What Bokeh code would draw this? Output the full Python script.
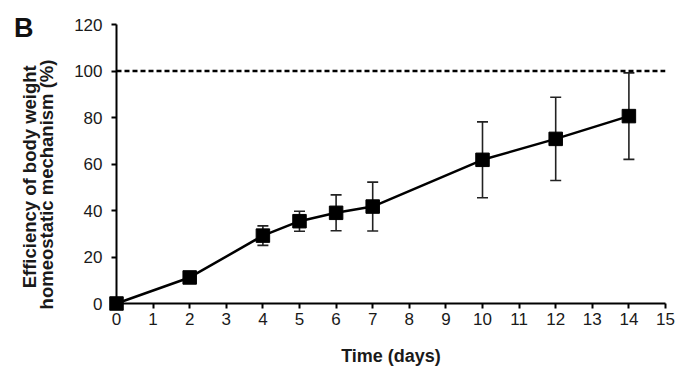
import math
from bokeh.plotting import figure
from bokeh.models import ColumnDataSource, Whisker, TeeHead, Range1d, FixedTicker
from bokeh.core.properties import value
from bokeh.embed import file_html
from bokeh.resources import INLINE

# Data
days = [0, 2, 4, 5, 6, 7, 10, 12, 14]
efficiency = [0, 11.2, 29.2, 35.4, 39.0, 41.7, 61.8, 70.8, 80.6]
err = [0, 1.5, 4.2, 4.3, 7.7, 10.5, 16.3, 17.9, 18.6]
x_ticks = list(range(0, 16))
y_ticks = [0, 20, 40, 60, 80, 100, 120]
ref_level = 100
y_title_lines = ["Efficiency of body weight", "homeostatic mechanism  (%)"]
x_title = "Time (days)"
panel_tag = "B"

FONT = "Liberation Sans"
TXT = "#1a1a1a"

p = figure(width=689, height=374, output_backend="svg", toolbar_location=None,
           x_range=Range1d(x_ticks[0], x_ticks[-1]), y_range=Range1d(y_ticks[0], y_ticks[-1]),
           min_border_left=116, min_border_right=24, min_border_top=24, min_border_bottom=71)
p.outline_line_color = None
p.grid.visible = False
p.background_fill_color = "white"

lower = [v - e for v, e in zip(efficiency, err)]
upper = [v + e for v, e in zip(efficiency, err)]
src = ColumnDataSource(dict(x=days, y=efficiency, lower=lower, upper=upper))

w = Whisker(base="x", lower="lower", upper="upper", source=src,
            line_color="#222222", line_width=1.6,
            upper_head=TeeHead(size=11, line_color="#222222", line_width=1.6),
            lower_head=TeeHead(size=11, line_color="#222222", line_width=1.6))
p.add_layout(w)

# reference dashed line
p.line([x_ticks[0], x_ticks[-1]], [ref_level, ref_level], line_color="black",
       line_width=2.4, line_dash="5 3")

p.line("x", "y", source=src, line_color="black", line_width=2.5, level="overlay")
p.scatter("x", "y", source=src, marker="square", size=13.5, fill_color="black",
          line_color="black", level="overlay")

for ax in (p.xaxis[0], p.yaxis[0]):
    ax.axis_line_width = 2
    ax.axis_line_color = "black"
    ax.major_tick_line_width = 2
    ax.major_tick_line_color = "black"
    ax.major_tick_out = 5
    ax.major_tick_in = 0
    ax.minor_tick_line_color = None
    ax.major_label_text_font = FONT
    ax.major_label_text_font_size = "17px"
    ax.major_label_text_color = TXT
    ax.axis_label_text_font = FONT
    ax.axis_label_text_font_style = "bold"
    ax.axis_label_text_color = TXT

p.xaxis.ticker = FixedTicker(ticks=x_ticks)
p.yaxis.ticker = FixedTicker(ticks=y_ticks)
p.xaxis.major_label_standoff = 4
p.yaxis.major_label_standoff = 9
p.xaxis.axis_label = x_title
p.xaxis.axis_label_text_font_size = "18px"
p.xaxis.axis_label_standoff = 18

# y-axis title (two tight lines, placed like the reference)
p.text(x=[-2.39, -1.90], y=[54.5, 52.3], text=y_title_lines, angle=math.pi / 2,
       text_font=value(FONT), text_font_style="bold", text_font_size="18.5px",
       text_color=TXT, text_align="center", text_baseline="middle", level="overlay")

# panel tag
p.text(x=[-2.8], y=[118.7], text=[panel_tag], text_font=value(FONT),
       text_font_style="bold", text_font_size="27px", text_color="#111111",
       text_align="left", text_baseline="alphabetic", level="overlay")

open("out.html", "w").write(file_html(p, INLINE))
